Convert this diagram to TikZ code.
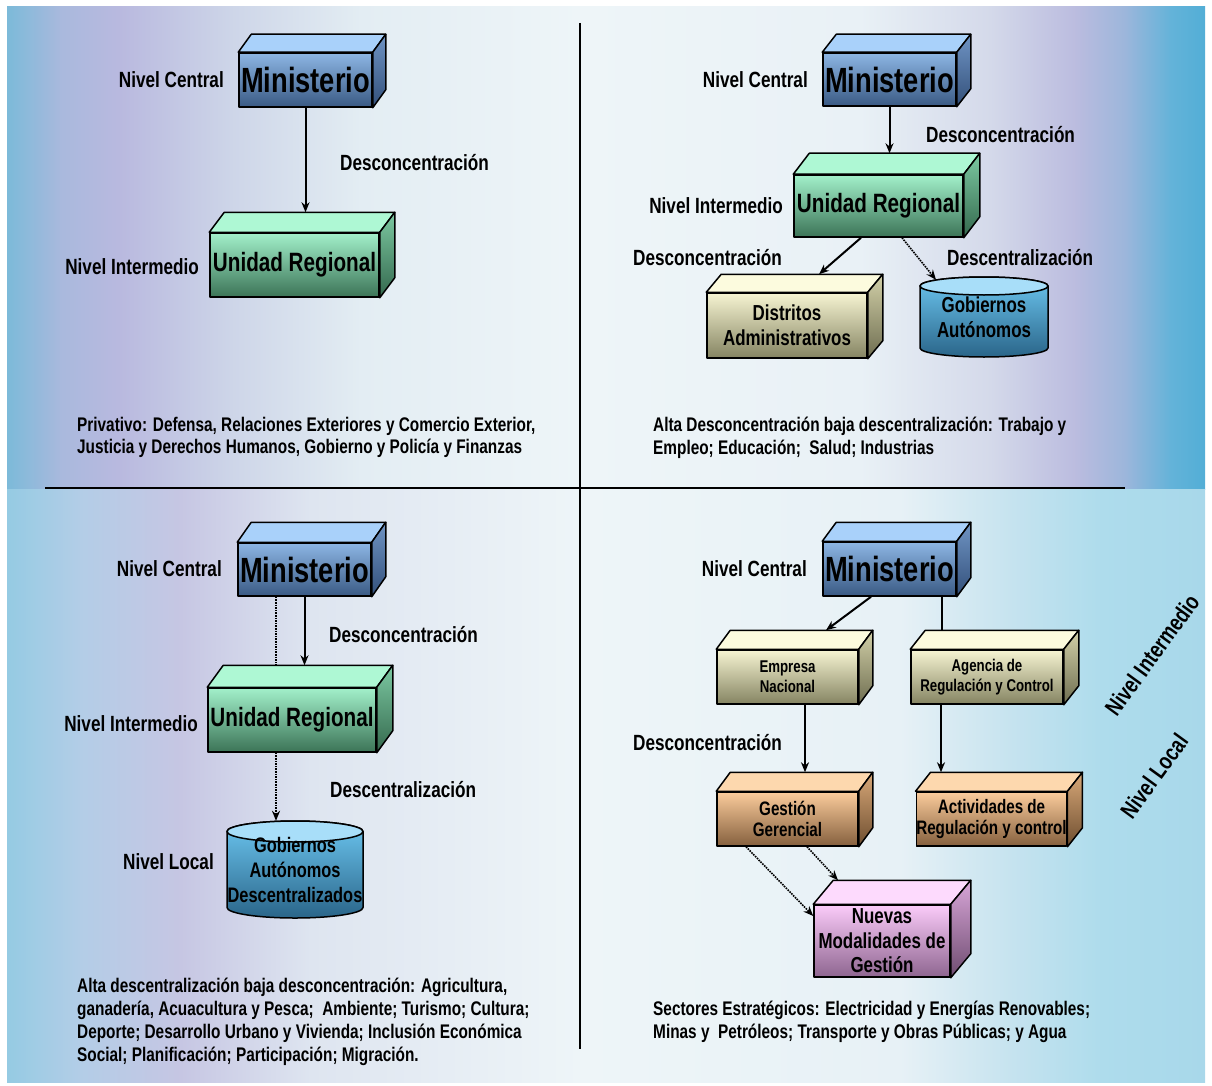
\documentclass[tikz,border=0pt]{standalone}
\usepackage{fontspec}
\newfontfamily\cf{Liberation Sans}[FakeStretch=0.78]
\usetikzlibrary{arrows.meta,calc}
\newcommand\fsz[2]{\fontsize{#1}{#2}\selectfont}
% box colours
\definecolor{minF1}{HTML}{8DB6E4}\definecolor{minF2}{HTML}{3A5A84}
\definecolor{minT}{HTML}{A9D1FA}\definecolor{minS1}{HTML}{6F94C4}\definecolor{minS2}{HTML}{33507A}
\definecolor{urF1}{HTML}{A2F0CA}\definecolor{urF2}{HTML}{3C7457}
\definecolor{urT}{HTML}{AEF8D4}\definecolor{urS1}{HTML}{7CC9A2}\definecolor{urS2}{HTML}{34684D}
\definecolor{khF1}{HTML}{F6F4D2}\definecolor{khF2}{HTML}{858462}
\definecolor{khT}{HTML}{FCFBDE}\definecolor{khS1}{HTML}{D2D0A8}\definecolor{khS2}{HTML}{6E6D50}
\definecolor{tnF1}{HTML}{FBCC9C}\definecolor{tnF2}{HTML}{85603E}
\definecolor{tnT}{HTML}{FDD8AE}\definecolor{tnS1}{HTML}{D8A878}\definecolor{tnS2}{HTML}{6E4E30}
\definecolor{pkF1}{HTML}{FACBF9}\definecolor{pkF2}{HTML}{8E6690}
\definecolor{pkT}{HTML}{FDDAFD}\definecolor{pkS1}{HTML}{D8A6D8}\definecolor{pkS2}{HTML}{6E4C70}
\definecolor{cyT}{HTML}{A8DEF9}\definecolor{cyB1}{HTML}{6CC6F0}\definecolor{cyB2}{HTML}{2A6589}
% background colours
\definecolor{t0}{HTML}{7CBAD9}\definecolor{t1}{HTML}{A9B9DD}\definecolor{t2}{HTML}{B9B9DF}
\definecolor{t3}{HTML}{CDD5E8}\definecolor{t4}{HTML}{E3EDF3}\definecolor{t5}{HTML}{EEF5F8}
\definecolor{t6}{HTML}{E9F1F6}\definecolor{t7}{HTML}{D4D9EA}\definecolor{t8}{HTML}{BBBCDF}
\definecolor{t9}{HTML}{9CB6DB}\definecolor{t10}{HTML}{64B3D9}\definecolor{t11}{HTML}{52AED6}
\definecolor{b0}{HTML}{95CBE3}\definecolor{b1}{HTML}{B3CDE7}\definecolor{b2}{HTML}{C6C6E3}
\definecolor{b3}{HTML}{DEE5F0}\definecolor{b4}{HTML}{EEF5F8}\definecolor{b5}{HTML}{E7F1F6}
\definecolor{b6}{HTML}{C6E3EF}\definecolor{b7}{HTML}{AEDCEC}\definecolor{b8}{HTML}{A8D8EA}
\tikzset{
  face/.style={draw=black, line width=1.5pt, line join=round},
  front/.style={face, rectangle, inner sep=0pt, align=center},
  minc F/.style={top color=minF1, bottom color=minF2},
  minc T/.style={fill=minT}, minc S/.style={top color=minS1, bottom color=minS2},
  urc F/.style={top color=urF1, bottom color=urF2},
  urc T/.style={fill=urT}, urc S/.style={top color=urS1, bottom color=urS2},
  khc F/.style={top color=khF1, bottom color=khF2},
  khc T/.style={fill=khT}, khc S/.style={top color=khS1, bottom color=khS2},
  tnc F/.style={top color=tnF1, bottom color=tnF2},
  tnc T/.style={fill=tnT}, tnc S/.style={top color=tnS1, bottom color=tnS2},
  pkc F/.style={top color=pkF1, bottom color=pkF2},
  pkc T/.style={fill=pkT}, pkc S/.style={top color=pkS1, bottom color=pkS2},
  lbl/.style={font=\cf\bfseries\fsz{22}{24}, inner sep=0pt},
  body/.style={font=\cf\bfseries\fsz{19.7}{22.5}, align=left, inner sep=0pt, anchor=north west},
  conn/.style={line width=2pt, -{Stealth[length=10pt,width=8pt]}},
  dconn/.style={line width=1.6pt, densely dotted, -{Stealth[length=10pt,width=8pt]}},
  dline/.style={line width=1.6pt, densely dotted},
  plain/.style={line width=2pt},
  divider/.style={line width=2.6pt, black},
}
% #1 name, #2 centre, #3 width, #4 height, #5 depth vector, #6 scheme, #7 font, #8 text
\newcommand\cuboid[8]{%
  \node[front, #6 F, font=#7, minimum width=#3pt, minimum height=#4pt] (#1) at (#2) {#8};
  \path[face, #6 T] (#1.north west) -- ++(#5) -- ($(#1.north east)+(#5)$) -- (#1.north east) -- cycle;
  \path[face, #6 S] (#1.north east) -- ++(#5) -- ($(#1.south east)+(#5)$) -- (#1.south east) -- cycle;
  \coordinate (#1-back) at ($(#1.north west)+(#5)$);
}
% #1 name, #2 cx, #3 top, #4 bottom, #5 rx, #6 ry, #7 font, #8 text
\newcommand\cyl[8]{%
  \path[face, top color=cyB1, bottom color=cyB2] ({#2-#5},{#3+#6}) -- ({#2-#5},{#4-#6})
     arc[start angle=180, end angle=360, x radius=#5pt, y radius=#6pt] -- ({#2+#5},{#3+#6})
     arc[start angle=0, end angle=180, x radius=#5pt, y radius=#6pt] -- cycle;
  \path[face, fill=cyT] (#2,{#3+#6}) ellipse[x radius=#5pt, y radius=#6pt];
  \pgfmathsetmacro\cylw{2*#5}\pgfmathsetmacro\cylh{#4-#3}%
  \node[inner sep=0pt, align=center, font=#7, minimum width=\cylw pt, minimum height=\cylh pt] (#1) at (#2,{(#3+#4)/2}) {#8};
}
\newcommand\bgs[6]{\fill[left color=#5, right color=#6] (#1,#3) rectangle ({#2+1},#4);}
\begin{document}
\begin{tikzpicture}[x=1pt,y=-1pt]
\useasboundingbox (0,0) rectangle (1212,1086);
\fill[white] (0,0) rectangle (1212,1086);
% background, upper band
\bgs{7}{60}{7}{489}{t0}{t1}
\bgs{60}{120}{7}{489}{t1}{t2}
\bgs{120}{230}{7}{489}{t2}{t3}
\bgs{230}{360}{7}{489}{t3}{t4}
\bgs{360}{580}{7}{489}{t4}{t5}
\bgs{580}{860}{7}{489}{t5}{t6}
\bgs{860}{990}{7}{489}{t6}{t7}
\bgs{990}{1075}{7}{489}{t7}{t8}
\bgs{1075}{1125}{7}{489}{t8}{t9}
\bgs{1125}{1170}{7}{489}{t9}{t10}
\bgs{1170}{1204}{7}{489}{t10}{t11}
% background, lower band
\bgs{7}{80}{489}{1082}{b0}{b1}
\bgs{80}{180}{489}{1082}{b1}{b2}
\bgs{180}{310}{489}{1082}{b2}{b3}
\bgs{310}{580}{489}{1082}{b3}{b4}
\bgs{580}{900}{489}{1082}{b4}{b5}
\bgs{900}{1010}{489}{1082}{b5}{b6}
\bgs{1010}{1100}{489}{1082}{b6}{b7}
\bgs{1100}{1204}{489}{1082}{b7}{b8}
% dividers
\coordinate (vt) at (580,23); \coordinate (vb) at (580,1049);
\coordinate (hl) at (45,488); \coordinate (hr) at (1125,488);
\draw[divider] (vt) -- (vb);
\draw[divider] (hl) -- (hr);

% ===== top left =====
\cuboid{minTL}{305.5,80}{133}{54}{13,-18}{minc}{\cf\bfseries\fsz{35}{38}}{Ministerio}
\cuboid{urTL}{294.5,265}{169}{64}{15,-20}{urc}{\cf\bfseries\fsz{26.5}{30}}{Unidad Regional}
\draw[conn] (minTL.south) -- (minTL.south |- urTL-back);
\node[lbl, anchor=east] (ncTL) at (224,80) {Nivel Central};
\node[lbl, anchor=west] (dcTL) at (340,163) {Desconcentración};
\node[lbl, anchor=east] (niTL) at (199,267) {Nivel Intermedio};
\node[body] (txTL) at (77,417) {Privativo: Defensa, Relaciones Exteriores y Comercio Exterior,\\Justicia y Derechos Humanos, Gobierno y Policía y Finanzas};

% ===== top right =====
\cuboid{minTR}{889.5,79.5}{133}{53}{14,-18}{minc}{\cf\bfseries\fsz{35}{38}}{Ministerio}
\cuboid{urTR}{878.5,206}{169}{62}{16,-21}{urc}{\cf\bfseries\fsz{26.5}{30}}{Unidad Regional}
\cuboid{disTR}{787,325.5}{160}{65}{15,-18}{khc}{\cf\bfseries\fsz{21.7}{25}}{Distritos\\Administrativos}
\cyl{gobTR}{984}{277}{357}{64}{9}{\cf\bfseries\fsz{21.7}{25}}{Gobiernos\\Autónomos}
\draw[conn] (minTR.south) -- (minTR.south |- urTR-back);
\draw[conn] ($(urTR.south)+(-17.5,0)$) -- ($(disTR.north)+(32,-18)$);
\draw[dconn] ($(urTR.south)+(23.5,0)$) -- ($(gobTR.north)+(-48,3)$);
\node[lbl, anchor=east] (ncTR) at (808,80) {Nivel Central};
\node[lbl, anchor=west] (dcTR) at (926,135) {Desconcentración};
\node[lbl, anchor=east] (niTR) at (783,206) {Nivel Intermedio};
\node[lbl, anchor=west] (dc2TR) at (633,258) {Desconcentración};
\node[lbl, anchor=west] (deTR) at (947,258) {Descentralización};
\node[body] (txTR) at (653,417) {Alta Desconcentración baja descentralización: Trabajo y\\Empleo; Educación;\ \ Salud; Industrias};

% ===== bottom left =====
\cuboid{minBL}{304.5,569.5}{133}{53}{14,-20}{minc}{\cf\bfseries\fsz{35}{38}}{Ministerio}
\cuboid{urBL}{292,720}{168}{64}{16,-22}{urc}{\cf\bfseries\fsz{26.5}{30}}{Unidad Regional}
\cyl{gobBL}{295}{821}{918}{68}{10.5}{\cf\bfseries\fsz{21}{25}}{Gobiernos\\Autónomos\\Descentralizados}
\draw[conn] (minBL.south) -- (minBL.south |- urBL-back);
\coordinate (dotTop) at ($(minBL.south)+(-28.5,0)$);
\draw[dline] (dotTop) -- (dotTop |- urBL-back);
\coordinate (dotBot) at ($(urBL.south)+(-16,0)$);
\draw[dconn] (dotBot) -- (dotBot |- gobBL.north);
\node[lbl, anchor=east] (ncBL) at (222,569) {Nivel Central};
\node[lbl, anchor=west] (dcBL) at (329,635) {Desconcentración};
\node[lbl, anchor=east] (niBL) at (198,724) {Nivel Intermedio};
\node[lbl, anchor=west] (deBL) at (330,790) {Descentralización};
\node[lbl, anchor=east] (nlBL) at (214,862) {Nivel Local};
\node[body, font=\cf\bfseries\fsz{19.7}{23}] (txBL) at (77,978) {Alta descentralización baja desconcentración: Agricultura,\\ganadería, Acuacultura y Pesca;\ \ Ambiente; Turismo; Cultura;\\Deporte; Desarrollo Urbano y Vivienda; Inclusión Económica\\Social; Planificación; Participación; Migración.};

% ===== bottom right =====
\cuboid{minBR}{889.5,569}{133}{54}{14,-19}{minc}{\cf\bfseries\fsz{35}{38}}{Ministerio}
\cuboid{empBR}{787.5,677}{141}{54}{14,-19}{khc}{\cf\bfseries\fsz{17}{20}}{Empresa\\Nacional}
\cuboid{agBR}{987,677}{152}{54}{15,-19}{khc}{\cf\bfseries\fsz{17}{20}}{Agencia de\\Regulación y Control}
\cuboid{gesBR}{787.5,819}{141}{54}{14,-19}{tnc}{\cf\bfseries\fsz{19.5}{21}}{Gestión\\Gerencial}
\cuboid{actBR}{991.5,819}{143}{54}{15,-19}{tnc}{\cf\bfseries\fsz{19.5}{21}}{Actividades de\\Regulación y control}
\cuboid{nueBR}{882,941}{136}{72}{20,-24}{pkc}{\cf\bfseries\fsz{21.7}{24.5}}{Nuevas\\Modalidades de\\Gestión}
\draw[conn] ($(minBR.south)+(-18.5,0)$) -- ($(empBR.north)+(38.5,-19)$);
\draw[plain] ($(minBR.south)+(52.5,0)$) -- ($(agBR.north)+(-45,-19)$);
\draw[conn] ($(empBR.south)+(17.5,0)$) -- ($(gesBR.north)+(17.5,-19)$);
\draw[conn] ($(agBR.south)+(-46,0)$) -- ($(actBR.north)+(-50.5,-19)$);
\draw[dconn] ($(gesBR.south)+(-41.5,0)$) -- ($(nueBR.west)+(0,-25)$);
\draw[dconn] ($(gesBR.south)+(19.5,0)$) -- ($(nueBR.north)+(-44,-24)$);
\node[lbl, anchor=east] (ncBR) at (807,569) {Nivel Central};
\node[lbl, anchor=west] (dcBR) at (633,743) {Desconcentración};
\node[lbl, font=\cf\bfseries\fsz{23.5}{26}, rotate=54] (niBR) at (1152,655) {Nivel Intermedio};
\node[lbl, font=\cf\bfseries\fsz{23.5}{26}, rotate=54] (nlBR) at (1154,776) {Nivel Local};
\node[body] (txBR) at (653,1001) {Sectores Estratégicos: Electricidad y Energías Renovables;\\Minas y\ \ Petróleos; Transporte y Obras Públicas; y Agua};
\end{tikzpicture}
\end{document}
